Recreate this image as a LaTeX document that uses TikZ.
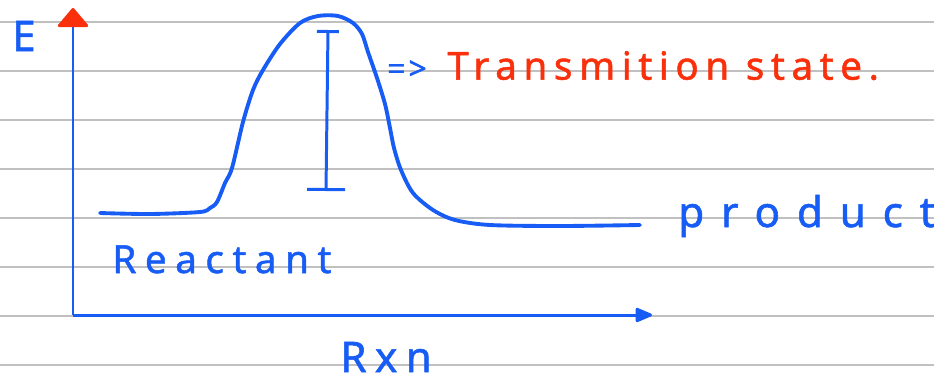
\documentclass[tikz,border=0pt]{standalone}
\usepackage{fontspec}
\newfontfamily\hand[FakeBold=1.3]{Noto Sans}
\usetikzlibrary{arrows.meta, positioning}

\definecolor{inkblue}{RGB}{22,92,245}
\definecolor{inkred}{RGB}{250,48,12}
\definecolor{rulegray}{RGB}{192,192,192}
\newcommand\inkfont[2]{\hand\fontsize{#1}{#1}\selectfont\addfontfeature{LetterSpace=#2}}

\begin{document}
\begin{tikzpicture}[
  x=0.02cm, y=-0.02cm,
  ruled/.style={draw=rulegray, line width=0.7pt},
  ink/.style={draw=inkblue, line width=2.2pt, line cap=round, line join=round},
  axis/.style={draw=inkblue, line width=1.7pt},
  tag/.style={inner sep=0pt, text=inkblue}
]
\useasboundingbox (0,0) rectangle (934,383);

% ruled paper
\foreach \y in {22,71,...,365}
  \draw[ruled] (0,\y) -- (934,\y);

% axes
\coordinate (origin) at (73,315);
\coordinate (ytip) at (73,8);
\coordinate (xtip) at (652,315);
\draw[axis, -{Triangle[color=inkred, width=0.66cm, length=0.4cm, round]}] (origin) -- (ytip);
\draw[axis, -{Triangle[width=0.3cm, length=0.38cm, round]}] (origin) -- (xtip);

% energy profile
\draw[ink] plot[smooth, tension=0.5] coordinates {
  (100,213) (150,214) (200,212) (210,208) (217,202) (225,183) (232,168)
  (243,122) (253,90) (263,70) (280,44) (300,23) (318,16) (338,16)
  (353,23) (362,34) (368,52) (377,78) (385,104) (390,128) (394,148)
  (401,170) (413,193) (433,210) (455,220) (490,225) (560,226) (640,225)};

% barrier height
\coordinate (bartop) at (328,30);
\coordinate (barbot) at (326,191);
\draw[ink, line width=1.7pt, {Bar[width=0.44cm]}-{Bar[width=0.76cm]}] (bartop) -- (barbot);

% labels
\node[tag, font={\inkfont{24}{0}}] (elabel) at (24,36) {E};
\node[tag, font={\inkfont{18}{10}}] (arr) at (407,70) {=>};
\node[tag, text=inkred, font={\inkfont{22}{17}}, base right=4mm of arr] (ts) {Transmition state.};
\node[tag, font={\inkfont{24}{40}}, anchor=base west] (prod) at (678,227) {product};
\node[tag, font={\inkfont{22}{22}}, anchor=base west] (react) at (112,273) {Reactant};
\node[tag, font={\inkfont{24}{20}}, anchor=base west] (rxn) at (340,372) {Rxn};

\end{tikzpicture}
\end{document}
